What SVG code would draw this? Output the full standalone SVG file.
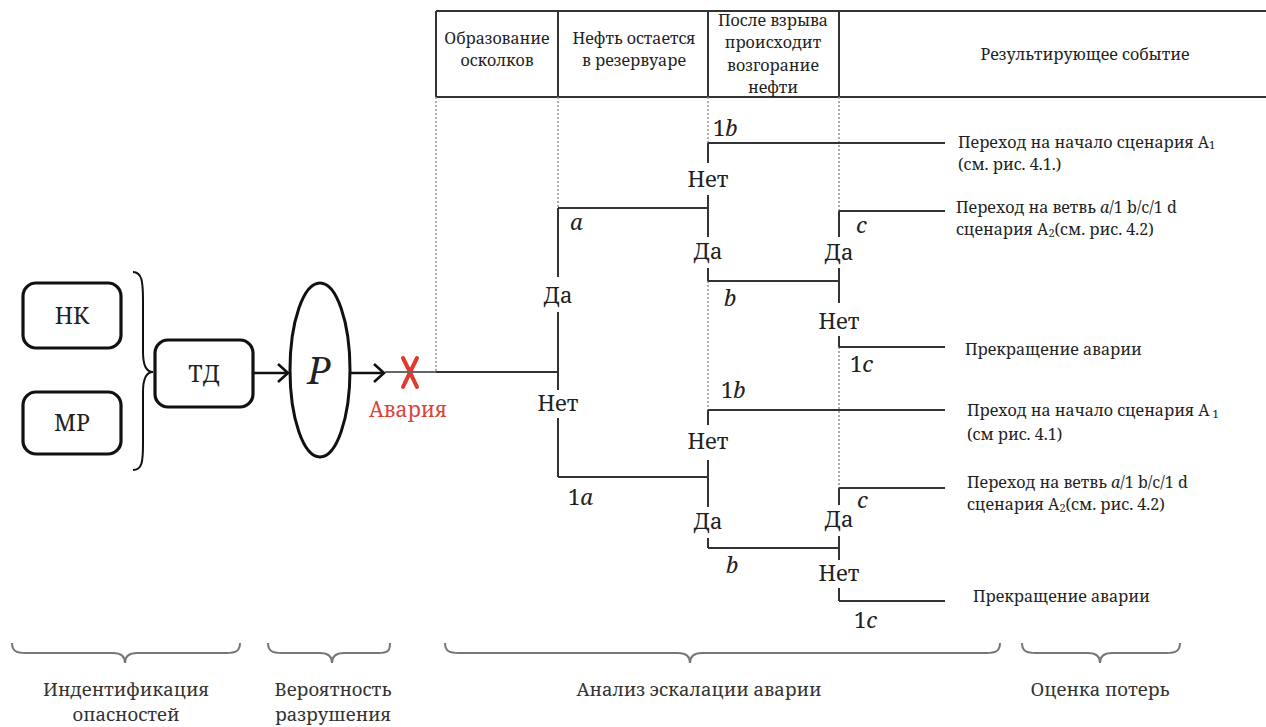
<svg xmlns="http://www.w3.org/2000/svg" width="1266" height="727" viewBox="0 0 1266 727">
<style>
text{fill:#222;font-family:"Noto Serif","DejaVu Serif",serif}
.hd{font-size:16px;text-anchor:middle}
.res{font-size:16px}
.yn{font-size:22px;text-anchor:middle}
.lt{font-size:22px}
.it{font-style:italic}
.ft{font-size:18.5px;text-anchor:middle;fill:#333}
.ln{stroke:#333;stroke-width:2;fill:none}
.ds{stroke:#9a9a9a;stroke-width:1.6;stroke-dasharray:2 2;fill:none}
.box{fill:#fff;stroke:#111;stroke-width:3.2}
.br{fill:none;stroke:#777;stroke-width:2}
.sub{font-size:11px}
.nd{font-size:23px;text-anchor:middle}
</style>
<defs>
<marker id="chev" markerWidth="14" markerHeight="20" refX="11" refY="10" orient="auto" markerUnits="userSpaceOnUse">
<path d="M1,1 L11,10 L1,19" fill="none" stroke="#111" stroke-width="2.6"/>
</marker>
</defs>
<rect width="1266" height="727" fill="#fff"/>

<g id="header">
<path d="M436,11 H1266 M436,97 H1266 M436,11 V97 M558,11 V97 M708,11 V97 M839,11 V97" stroke="#333" stroke-width="2" fill="none"/>
<text class="hd" x="497" y="44">Образование</text>
<text class="hd" x="497" y="66">осколков</text>
<text class="hd" x="634" y="44">Нефть остается</text>
<text class="hd" x="634" y="66">в резервуаре</text>
<text class="hd" x="773" y="26">После взрыва</text>
<text class="hd" x="773" y="48">происходит</text>
<text class="hd" x="773" y="71">возгорание</text>
<text class="hd" x="773" y="93">нефти</text>
<text class="hd" x="1085" y="60">Результирующее событие</text>
</g>

<g id="node-nk"><rect class="box" x="23" y="283" width="98" height="65" rx="13"/><text class="nd" x="72" y="324">НК</text></g>
<g id="node-mr"><rect class="box" x="23" y="392" width="98" height="62" rx="13"/><text class="nd" x="72" y="431">МР</text></g>
<g id="brace-left"><path d="M133,272 C142,272 143,282 143,300 L143,352 C143,366 147,372 153,372 C147,372 143,378 143,392 L143,444 C143,462 142,470 133,470" fill="none" stroke="#111" stroke-width="2"/></g>
<g id="node-td"><rect class="box" x="155" y="340" width="98" height="67" rx="13"/><text class="nd" x="204" y="382">ТД</text></g>
<g id="node-p"><ellipse cx="320" cy="370" rx="30" ry="87" fill="#fff" stroke="#111" stroke-width="3"/><text x="319" y="384" font-size="38" font-style="italic" text-anchor="middle">P</text></g>
<g id="node-avaria">
<path d="M403,358 Q410,372 417,387 M417,358 Q410,372 403,387" stroke="#e0392f" stroke-width="4" stroke-linecap="round" fill="none"/>
<text x="408" y="417" font-size="21" text-anchor="middle" style="fill:#d9453a">Авария</text>
</g>

<g id="connectors">
<line x1="253" y1="373" x2="288" y2="373" stroke="#111" stroke-width="2.4" marker-end="url(#chev)"/>
<line x1="350" y1="373" x2="384" y2="373" stroke="#111" stroke-width="2.4" marker-end="url(#chev)"/>
<path class="ds" d="M436,97 V372 M558,97 V208 M708,97 V143 M839,97 V211 M708,281 V410 M839,347 V488"/>
<path d="M385,372 H436" stroke="#666" stroke-width="2" fill="none"/>
<path class="ln" d="M436,372 H558"/>
<path class="ln" d="M558,208 V277 M558,312 V390 M558,418 V477 M558,208 H708 M558,477 H708"/>
<path class="ln" d="M708,143 V163 M708,195 V237 M708,268 V281 M708,143 H945 M708,281 H839"/>
<path class="ln" d="M839,211 V237 M839,268 V303 M839,336 V347 M839,211 H945 M839,347 H945"/>
<path class="ln" d="M708,410 V425 M708,460 V507 M708,538 V548 M708,410 H945 M708,548 H839"/>
<path class="ln" d="M839,488 V505 M839,536 V560 M839,588 V601 M839,488 H945 M839,601 H945"/>
</g>

<g id="labels">
<text class="yn" x="558" y="303">Да</text>
<text class="yn" x="558" y="411">Нет</text>
<text class="yn" x="708" y="187">Нет</text>
<text class="yn" x="708" y="259">Да</text>
<text class="yn" x="839" y="260">Да</text>
<text class="yn" x="839" y="329">Нет</text>
<text class="yn" x="708" y="449">Нет</text>
<text class="yn" x="708" y="529">Да</text>
<text class="yn" x="839" y="527">Да</text>
<text class="yn" x="839" y="581">Нет</text>
<text class="lt it" x="570" y="230">a</text>
<text class="lt" x="713" y="136">1<tspan class="it">b</tspan></text>
<text class="lt it" x="724" y="306">b</text>
<text class="lt it" x="856" y="233">c</text>
<text class="lt" x="850" y="372">1<tspan class="it">c</tspan></text>
<text class="lt" x="721" y="398">1<tspan class="it">b</tspan></text>
<text class="lt" x="568" y="505">1<tspan class="it">a</tspan></text>
<text class="lt it" x="726" y="573">b</text>
<text class="lt it" x="857" y="508">c</text>
<text class="lt" x="854" y="628">1<tspan class="it">c</tspan></text>
</g>

<g id="results">
<text class="res" x="958" y="148">Переход на начало сценария A<tspan class="sub" dy="1">1</tspan></text>
<text class="res" x="958" y="170">(см. рис. 4.1.)</text>
<text class="res" x="956" y="213">Переход на ветвь <tspan class="it">a</tspan>/1 b/c/1 d</text>
<text class="res" x="956" y="235">сценария A<tspan class="sub" dy="2">2</tspan><tspan dy="-2">(см. рис. 4.2)</tspan></text>
<text class="res" x="965" y="355">Прекращение аварии</text>
<text class="res" x="967" y="416">Преход на начало сценария A<tspan class="sub" dy="2"> 1</tspan></text>
<text class="res" x="967" y="440">(см рис. 4.1)</text>
<text class="res" x="967" y="488">Переход на ветвь <tspan class="it">a</tspan>/1 b/c/1 d</text>
<text class="res" x="967" y="510">сценария A<tspan class="sub" dy="2">2</tspan><tspan dy="-2">(см. рис. 4.2)</tspan></text>
<text class="res" x="973" y="602">Прекращение аварии</text>
</g>

<g id="footer">
<path class="br" d="M12,643 C12,651 16,653 26,653 L113,653 C120,653 125,656 125,663 C125,656 130,653 137,653 L226,653 C236,653 240,651 240,643"/>
<path class="br" d="M268,643 C268,651 272,653 282,653 L320,653 C327,653 332,656 332,663 C332,656 337,653 344,653 L378,653 C388,653 390,651 390,643"/>
<path class="br" d="M445,643 C445,651 449,653 459,653 L678,653 C685,653 690,656 690,663 C690,656 695,653 702,653 L986,653 C996,653 1000,651 1000,643"/>
<path class="br" d="M1022,643 C1022,651 1026,653 1036,653 L1088,653 C1095,653 1100,656 1100,663 C1100,656 1105,653 1112,653 L1166,653 C1176,653 1180,651 1180,643"/>
<text class="ft" x="126" y="696">Индентификация</text>
<text class="ft" x="126" y="721">опасностей</text>
<text class="ft" x="333" y="696">Вероятность</text>
<text class="ft" x="333" y="721">разрушения</text>
<text class="ft" x="699" y="696">Анализ эскалации аварии</text>
<text class="ft" x="1100" y="696">Оценка потерь</text>
</g>
</svg>
